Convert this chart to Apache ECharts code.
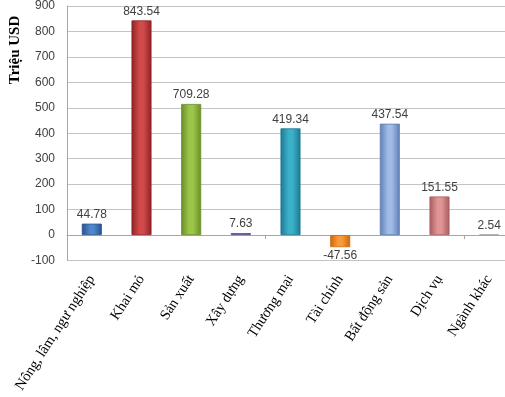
<!DOCTYPE html>
<html>
<head>
<meta charset="utf-8">
<script src="https://cdn.jsdelivr.net/npm/echarts@6/dist/echarts.min.js"></script>
<style>html,body{margin:0;padding:0;background:#fff;overflow:hidden;width:505px;height:397px}#c{width:514px;height:397px}</style>
</head>
<body>
<div id="c"></div>
<script>
const categories = ['Nông, lâm, ngư nghiệp', 'Khai mỏ', 'Sản xuất', 'Xây dựng', 'Thương mại', 'Tài chính', 'Bất động sản', 'Dịch vụ', 'Ngành khác'];
// bar heights as drawn in the picture
const values = [44.78, 843.54, 515, 7.63, 419.34, -47.56, 437.54, 151.55, 2.54];
// value labels as printed
const valueLabels = ['44.78', '843.54', '709.28', '7.63', '419.34', '-47.56', '437.54', '151.55', '2.54'];
const yTicks = { min: -100, max: 900, interval: 100 };
const barColors = [
  ['#24508f', '#4f86cc'],
  ['#8e2224', '#d24a4a'],
  ['#6a8c26', '#9cc64a'],
  ['#5a4288', '#8e74bd'],
  ['#1d7890', '#3bb0c9'],
  ['#c9680f', '#f99a3a'],
  ['#5e7fb4', '#a0bbe6'],
  ['#a95a5d', '#e09595'],
  ['#a8a8a8', '#d8d8d8']
];

function grad(c) {
  return new echarts.graphic.LinearGradient(0, 0, 1, 0, [
    { offset: 0, color: c[0] },
    { offset: 0.4, color: c[1] },
    { offset: 0.6, color: c[1] },
    { offset: 1, color: c[0] }
  ]);
}

const chart = echarts.init(document.getElementById('c'), null, { renderer: 'canvas' });
chart.setOption({
  animation: false,
  backgroundColor: '#fff',
  grid: { left: 67, right: 0, top: 5.5, height: 255, containLabel: false },
  xAxis: [
    {
      type: 'category',
      data: categories,
      position: 'bottom',
      axisLine: { show: false, onZero: false },
      axisTick: { show: false },
      axisLabel: {
        rotate: 57,
        interval: 0,
        margin: 16,
        fontFamily: 'Liberation Serif',
        fontSize: 14.5,
        color: '#000'
      }
    },
    {
      type: 'category',
      data: categories,
      position: 'bottom',
      axisLine: { show: true, onZero: true, lineStyle: { color: '#a6a6a6', width: 1 } },
      axisTick: { show: true, length: 4, alignWithLabel: false, lineStyle: { color: '#a6a6a6' } },
      axisLabel: { show: false }
    }
  ],
  yAxis: {
    type: 'value',
    min: yTicks.min,
    max: yTicks.max,
    interval: yTicks.interval,
    axisLine: { show: true, lineStyle: { color: '#a6a6a6' } },
    axisTick: { show: false },
    splitLine: { show: true, lineStyle: { color: '#c4c4c4', width: 1 } },
    axisLabel: {
      margin: 12,
      fontFamily: 'Liberation Sans',
      fontSize: 12,
      color: '#404040'
    }
  },
  graphic: [{
    type: 'text',
    x: 15,
    y: 50,
    rotation: Math.PI / 2,
    style: {
      text: 'Triệu USD',
      font: 'bold 15px "Liberation Serif"',
      fill: '#000',
      align: 'center',
      verticalAlign: 'middle'
    }
  }],
  series: [{
    type: 'bar',
    xAxisIndex: 0,
    barWidth: 20,
    data: values.map((v, i) => ({
      value: v,
      itemStyle: { color: grad(barColors[i]), borderColor: barColors[i][0], borderWidth: 0.8 },
      label: { position: v < 0 ? 'bottom' : 'top' }
    })),
    label: {
      show: true,
      distance: 3,
      fontFamily: 'Liberation Sans',
      fontSize: 12,
      color: '#404040',
      formatter: p => valueLabels[p.dataIndex]
    }
  }]
});
</script>
</body>
</html>
